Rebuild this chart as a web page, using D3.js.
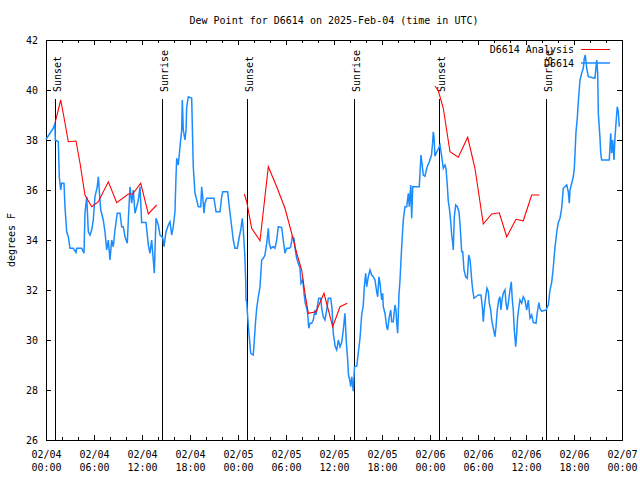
<!DOCTYPE html>
<html><head><meta charset="utf-8">
<script src="https://cdn.jsdelivr.net/npm/d3@7"></script>
<style>
body{margin:0;background:#fff}
svg text{font-family:"DejaVu Sans Mono","Liberation Mono",monospace;font-size:10px;fill:#000}
</style>
</head><body>
<svg id="c" width="640" height="480"></svg>
<script>
const titleText = "Dew Point for D6614 on 2025-Feb-04 (time in UTC)";
const yAxisTitle = "degrees F";
const startTime = "2025-02-04T00:00:00Z";
const endTime = "2025-02-07T00:00:00Z";
const yTicks = [26, 28, 30, 32, 34, 36, 38, 40, 42];
const seriesNames = ["D6614 Analysis", "D6614"];
const seriesColors = ["#ff0000", "#1a8cff"];
const sunHours = [1.1, 14.5, 25.1, 38.5, 49.1, 62.5];
const sunLabels = ["Sunset", "Sunrise", "Sunset", "Sunrise", "Sunset", "Sunrise"];

// observations: [hours since start, deg F]
const obsSeries = [
[0,38.03],[0.5,38.27],[0.91,38.47],[1.12,38.67],[1.16,38.0],[1.54,37.93],[1.66,36.53],[1.84,36.0],[1.96,36.27],[2.25,36.27],
[2.37,35.33],[2.59,34.33],[2.79,34.13],[3.0,33.67],[3.41,33.67],[3.75,33.5],[3.84,33.67],[4.46,33.67],[4.75,33.47],[4.87,35.07],
[5.09,35.73],[5.29,34.33],[5.5,34.2],[5.71,34.4],[5.91,34.8],[6.12,35.73],[6.41,36.13],[6.54,36.53],[6.66,36.0],[6.84,35.2],
[7.16,34.8],[7.37,34.33],[7.59,33.6],[7.79,34.0],[8.0,33.2],[8.21,34.0],[8.41,33.73],[8.62,34.4],[8.91,35.07],[9.25,35.07],
[9.46,34.53],[9.66,34.53],[9.87,34.13],[10.16,33.87],[10.29,34.8],[10.5,36.13],[10.71,35.47],[10.91,36.0],[11.12,35.07],[11.34,35.33],
[11.54,35.6],[11.75,36.13],[11.96,34.7],[12.5,34.7],[12.79,33.8],[13.0,33.47],[13.21,34.0],[13.41,33.2],[13.54,32.67],[13.75,34.87],
[14.04,34.6],[14.25,34.2],[14.59,34.1],[14.75,33.73],[15.0,34.33],[15.29,34.6],[15.5,34.73],[15.71,34.2],[15.91,34.53],[16.12,35.13],
[16.25,36.53],[16.34,37.27],[16.54,37.0],[16.75,37.73],[16.96,38.4],[17.04,39.6],[17.16,38.4],[17.37,38.0],[17.5,38.4],[17.59,39.33],
[17.79,39.73],[18.21,39.67],[18.41,36.93],[18.62,35.87],[18.84,35.6],[19.04,35.33],[19.34,35.33],[19.46,36.13],[19.59,35.73],[19.75,35.07],
[19.87,35.47],[20.09,35.67],[21.0,35.67],[21.25,35.13],[21.75,35.13],[21.96,35.73],[22.09,35.93],[22.71,35.93],[22.91,35.33],[23.21,34.53],
[23.41,34.0],[23.62,33.67],[23.91,33.67],[24.16,34.13],[24.34,34.4],[24.54,34.87],[24.66,34.4],[24.84,33.47],[24.96,32.4],[25.0,31.6],
[25.09,31.53],[25.21,30.93],[25.37,30.27],[25.59,29.47],[25.91,29.4],[26.04,30.0],[26.21,30.8],[26.34,31.27],[26.54,31.73],[26.75,32.13],
[26.96,33.2],[27.16,33.27],[27.37,33.4],[27.59,33.87],[27.79,34.47],[27.91,33.87],[28.09,33.67],[28.41,33.73],[28.62,33.67],[28.84,34.0],
[29.04,34.53],[29.46,34.5],[29.66,34.0],[29.87,33.47],[30.09,33.67],[30.41,33.67],[30.59,33.73],[30.79,34.13],[31.0,34.07],[31.16,33.6],
[31.34,33.27],[31.54,33.07],[31.75,32.87],[31.87,32.27],[32.09,32.4],[32.25,31.87],[32.41,31.47],[32.59,31.27],[32.71,31.07],[32.84,30.47],
[33.0,30.67],[33.21,30.67],[33.41,30.8],[33.62,31.2],[33.75,31.0],[33.91,31.33],[34.09,31.67],[34.34,31.67],[34.46,31.27],[34.66,30.93],
[34.87,30.8],[35.09,31.2],[35.29,31.67],[35.59,31.67],[35.75,31.27],[35.91,30.27],[36.16,29.73],[36.34,29.6],[36.54,30.0],[36.75,29.73],
[36.96,29.9],[37.16,30.4],[37.37,31.07],[37.54,29.9],[37.69,29.3],[37.81,28.6],[38.0,28.35],[38.09,28.13],[38.22,28.53],[38.41,27.95],
[38.56,28.93],[38.84,28.95],[39.04,29.5],[39.25,30.07],[39.46,31.0],[39.66,31.4],[39.79,32.13],[39.96,32.67],[40.09,32.13],[40.29,32.53],
[40.5,32.8],[40.71,32.6],[40.91,32.53],[41.12,32.4],[41.34,31.93],[41.46,31.73],[41.62,32.53],[41.75,32.27],[41.96,31.6],[42.09,31.87],
[42.16,31.33],[42.37,31.07],[42.59,30.53],[42.71,30.4],[42.91,30.93],[43.09,31.2],[43.21,30.73],[43.41,30.73],[43.62,31.4],[43.75,31.2],
[43.84,30.67],[43.96,30.27],[44.12,31.8],[44.25,32.4],[44.46,33.73],[44.66,34.8],[44.87,35.33],[45.09,35.33],[45.29,35.87],[45.41,35.33],
[45.59,36.2],[45.71,34.87],[45.84,36.13],[46.66,36.13],[46.87,37.4],[47.0,37.07],[47.16,36.6],[47.37,36.55],[47.62,36.9],[47.91,37.13],
[48.19,37.4],[48.34,37.95],[48.41,38.33],[48.5,38.13],[48.62,37.35],[48.81,37.5],[49.04,37.65],[49.25,37.8],[49.46,37.35],[49.66,36.87],
[49.87,37.0],[50.0,36.85],[50.16,36.2],[50.29,35.53],[50.41,35.3],[50.59,34.73],[50.71,34.2],[50.84,33.87],[50.91,33.6],[51.04,34.93],
[51.21,35.4],[51.41,35.33],[51.62,35.13],[51.75,34.67],[51.96,33.53],[52.09,33.53],[52.25,32.8],[52.46,32.53],[52.66,32.47],[52.84,33.4],
[53.0,33.2],[53.12,32.8],[53.21,32.4],[53.34,32.0],[53.5,31.67],[53.75,31.73],[54.04,31.8],[54.37,31.8],[54.54,31.33],[54.66,30.73],
[54.79,31.27],[54.96,31.73],[55.12,32.07],[55.29,31.93],[55.41,31.47],[55.59,31.2],[55.71,30.8],[55.91,30.47],[56.12,30.13],[56.25,30.53],
[56.41,31.2],[56.59,31.6],[56.75,31.73],[56.87,31.2],[57.0,31.6],[57.16,31.87],[57.37,32.0],[57.5,31.47],[57.66,31.2],[57.84,31.6],
[58.0,32.0],[58.16,32.33],[58.29,31.6],[58.41,31.2],[58.54,30.4],[58.71,29.73],[58.84,30.27],[58.96,30.93],[59.12,31.33],[59.25,31.6],
[59.46,31.47],[59.66,31.73],[59.87,31.6],[60.09,31.2],[60.29,31.6],[60.5,30.87],[60.71,31.0],[60.91,30.7],[61.25,30.67],[61.41,31.1],
[61.62,31.5],[61.75,31.25],[61.96,31.15],[62.5,31.2],[62.79,31.4],[63.0,32.0],[63.21,32.3],[63.41,32.9],[63.62,33.7],[63.84,34.3],
[64.04,34.7],[64.25,34.87],[64.46,35.27],[64.66,36.07],[65.09,36.2],[65.29,35.93],[65.41,35.47],[65.5,36.0],[65.71,36.27],[65.91,36.53],
[66.04,36.87],[66.12,37.4],[66.25,38.33],[66.41,38.87],[66.54,39.53],[66.75,40.4],[66.96,40.67],[67.16,40.87],[67.29,41.27],[67.41,41.4],
[67.59,40.87],[67.79,40.53],[68.62,40.47],[68.84,41.2],[68.96,40.67],[69.04,39.07],[69.25,38.07],[69.34,37.47],[69.46,37.2],[70.41,37.2],
[70.59,38.27],[70.71,37.47],[70.84,38.0],[71.0,37.2],[71.12,38.07],[71.25,38.67],[71.41,39.33],[71.54,39.13],[71.66,38.53]
];

// analysis: [hours since start, deg F]; null = gap
const anaSeries = [
[1.12,38.67],[1.84,39.6],[2.25,38.9],[2.79,37.93],[3.75,37.96],[4.25,37.08],[4.87,35.8],[5.71,35.33],[6.54,35.53],[7.79,36.33],
[8.84,35.49],[10.29,35.84],[10.84,35.84],[11.84,36.27],[12.79,35.04],[13.84,35.4],
null,
[24.79,35.84],[25.09,35.53],[25.71,34.47],[26.75,33.97],[27.79,36.93],[28.84,36.13],[29.87,35.27],[30.71,34.27],[31.34,33.47],
[31.96,32.8],[32.37,31.87],[32.79,31.07],[33.75,31.13],[34.75,31.87],[35.84,30.53],[36.75,31.33],[37.66,31.47],
null,
[48.62,40.16],[49.04,39.97],[49.66,39.27],[50.5,37.53],[51.54,37.31],[52.71,38.11],[53.62,36.87],[54.66,34.64],[55.71,35.04],
[56.66,35.09],[57.59,34.13],[58.75,34.83],[59.66,34.77],[60.71,35.8],[61.66,35.8]
];

const svg = d3.select("#c");
const W = 640, H = 480;
const L = 46, R = 622, T = 40, B = 440;
const t0 = new Date(startTime), t1 = new Date(endTime);
const toDate = h => new Date(t0.getTime() + h * 3600e3);

const x = d3.scaleUtc().domain([t0, t1]).range([L, R]);
const y = d3.scaleLinear().domain([yTicks[0], yTicks[yTicks.length - 1]]).range([B, T]);

svg.append("rect").attr("width", W).attr("height", H).attr("fill", "#fff");

// title
svg.append("text").attr("x", (L + R) / 2).attr("y", 23.5).attr("text-anchor", "middle").text(titleText);
// y axis title
svg.append("text").attr("transform", `translate(15,${(T + B) / 2}) rotate(-90)`)
  .attr("text-anchor", "middle").text(yAxisTitle);

// axes
const fmtD = d3.utcFormat("%m/%d"), fmtT = d3.utcFormat("%H:%M");
const gxB = svg.append("g").attr("transform", `translate(0,${B})`)
  .call(d3.axisBottom(x).ticks(d3.utcHour.every(6)).tickSize(-5).tickPadding(0).tickFormat(fmtD));
gxB.select(".domain").remove();
gxB.selectAll(".tick text").each(function(d) {
  const t = d3.select(this);
  t.text(null).attr("dy", null).attr("y", 0);
  t.append("tspan").attr("x", 0).attr("y", 18).text(fmtD(d));
  t.append("tspan").attr("x", 0).attr("y", 31).text(fmtT(d));
});
const gxBm = svg.append("g").attr("transform", `translate(0,${B})`)
  .call(d3.axisBottom(x).ticks(d3.utcHour.every(2)).tickSize(-3).tickFormat(""));
gxBm.select(".domain").remove();
const gxT = svg.append("g").attr("transform", `translate(0,${T})`)
  .call(d3.axisTop(x).ticks(d3.utcHour.every(6)).tickSize(-5).tickFormat(""));
gxT.select(".domain").remove();
const gxTm = svg.append("g").attr("transform", `translate(0,${T})`)
  .call(d3.axisTop(x).ticks(d3.utcHour.every(2)).tickSize(-3).tickFormat(""));
gxTm.select(".domain").remove();

const gyL = svg.append("g").attr("transform", `translate(${L},0)`)
  .call(d3.axisLeft(y).tickValues(yTicks).tickSize(-5).tickPadding(8).tickFormat(d3.format("d")));
gyL.select(".domain").remove();
const gyR = svg.append("g").attr("transform", `translate(${R},0)`)
  .call(d3.axisRight(y).tickValues(yTicks).tickSize(-5).tickFormat(""));
gyR.select(".domain").remove();

svg.selectAll(".tick line").attr("stroke", "#000");
svg.selectAll(".tick text").attr("font-family", null).attr("font-size", null).attr("fill", "#000");

// border
svg.append("rect").attr("x", L + 0.5).attr("y", T + 0.5).attr("width", R - L).attr("height", B - T)
  .attr("fill", "none").attr("stroke", "#000").attr("stroke-width", 1);

// sunrise / sunset markers
const sun = svg.append("g");
sunHours.forEach((h, i) => {
  const sx = Math.round(x(toDate(h))) + 0.5;
  sun.append("line").attr("x1", sx).attr("x2", sx).attr("y1", 99).attr("y2", B)
    .attr("stroke", "#000").attr("stroke-width", 1);
  sun.append("text").attr("transform", `translate(${sx + 1.5},92) rotate(-90)`)
    .attr("dy", "0.35em").attr("text-anchor", "start").text(sunLabels[i]);
});

// legend
const lg = svg.append("g");
[0, 1].forEach(i => {
  const ly = 49.5 + i * 13.5;
  lg.append("text").attr("x", 574).attr("y", ly).attr("dy", "0.35em").attr("text-anchor", "end").text(seriesNames[i]);
  lg.append("line").attr("x1", 581).attr("x2", 610).attr("y1", ly).attr("y2", ly)
    .attr("stroke", seriesColors[i]).attr("stroke-width", i === 0 ? 1 : 1.5);
});

// data lines
const line = d3.line().defined(d => d !== null).x(d => x(toDate(d[0]))).y(d => y(d[1]));
svg.append("path").datum(obsSeries).attr("d", line).attr("fill", "none")
  .attr("stroke", seriesColors[1]).attr("stroke-width", 1.5).attr("stroke-linejoin", "miter");
svg.append("path").datum(anaSeries).attr("d", line).attr("fill", "none")
  .attr("stroke", seriesColors[0]).attr("stroke-width", 1.1);
</script>
</body></html>
